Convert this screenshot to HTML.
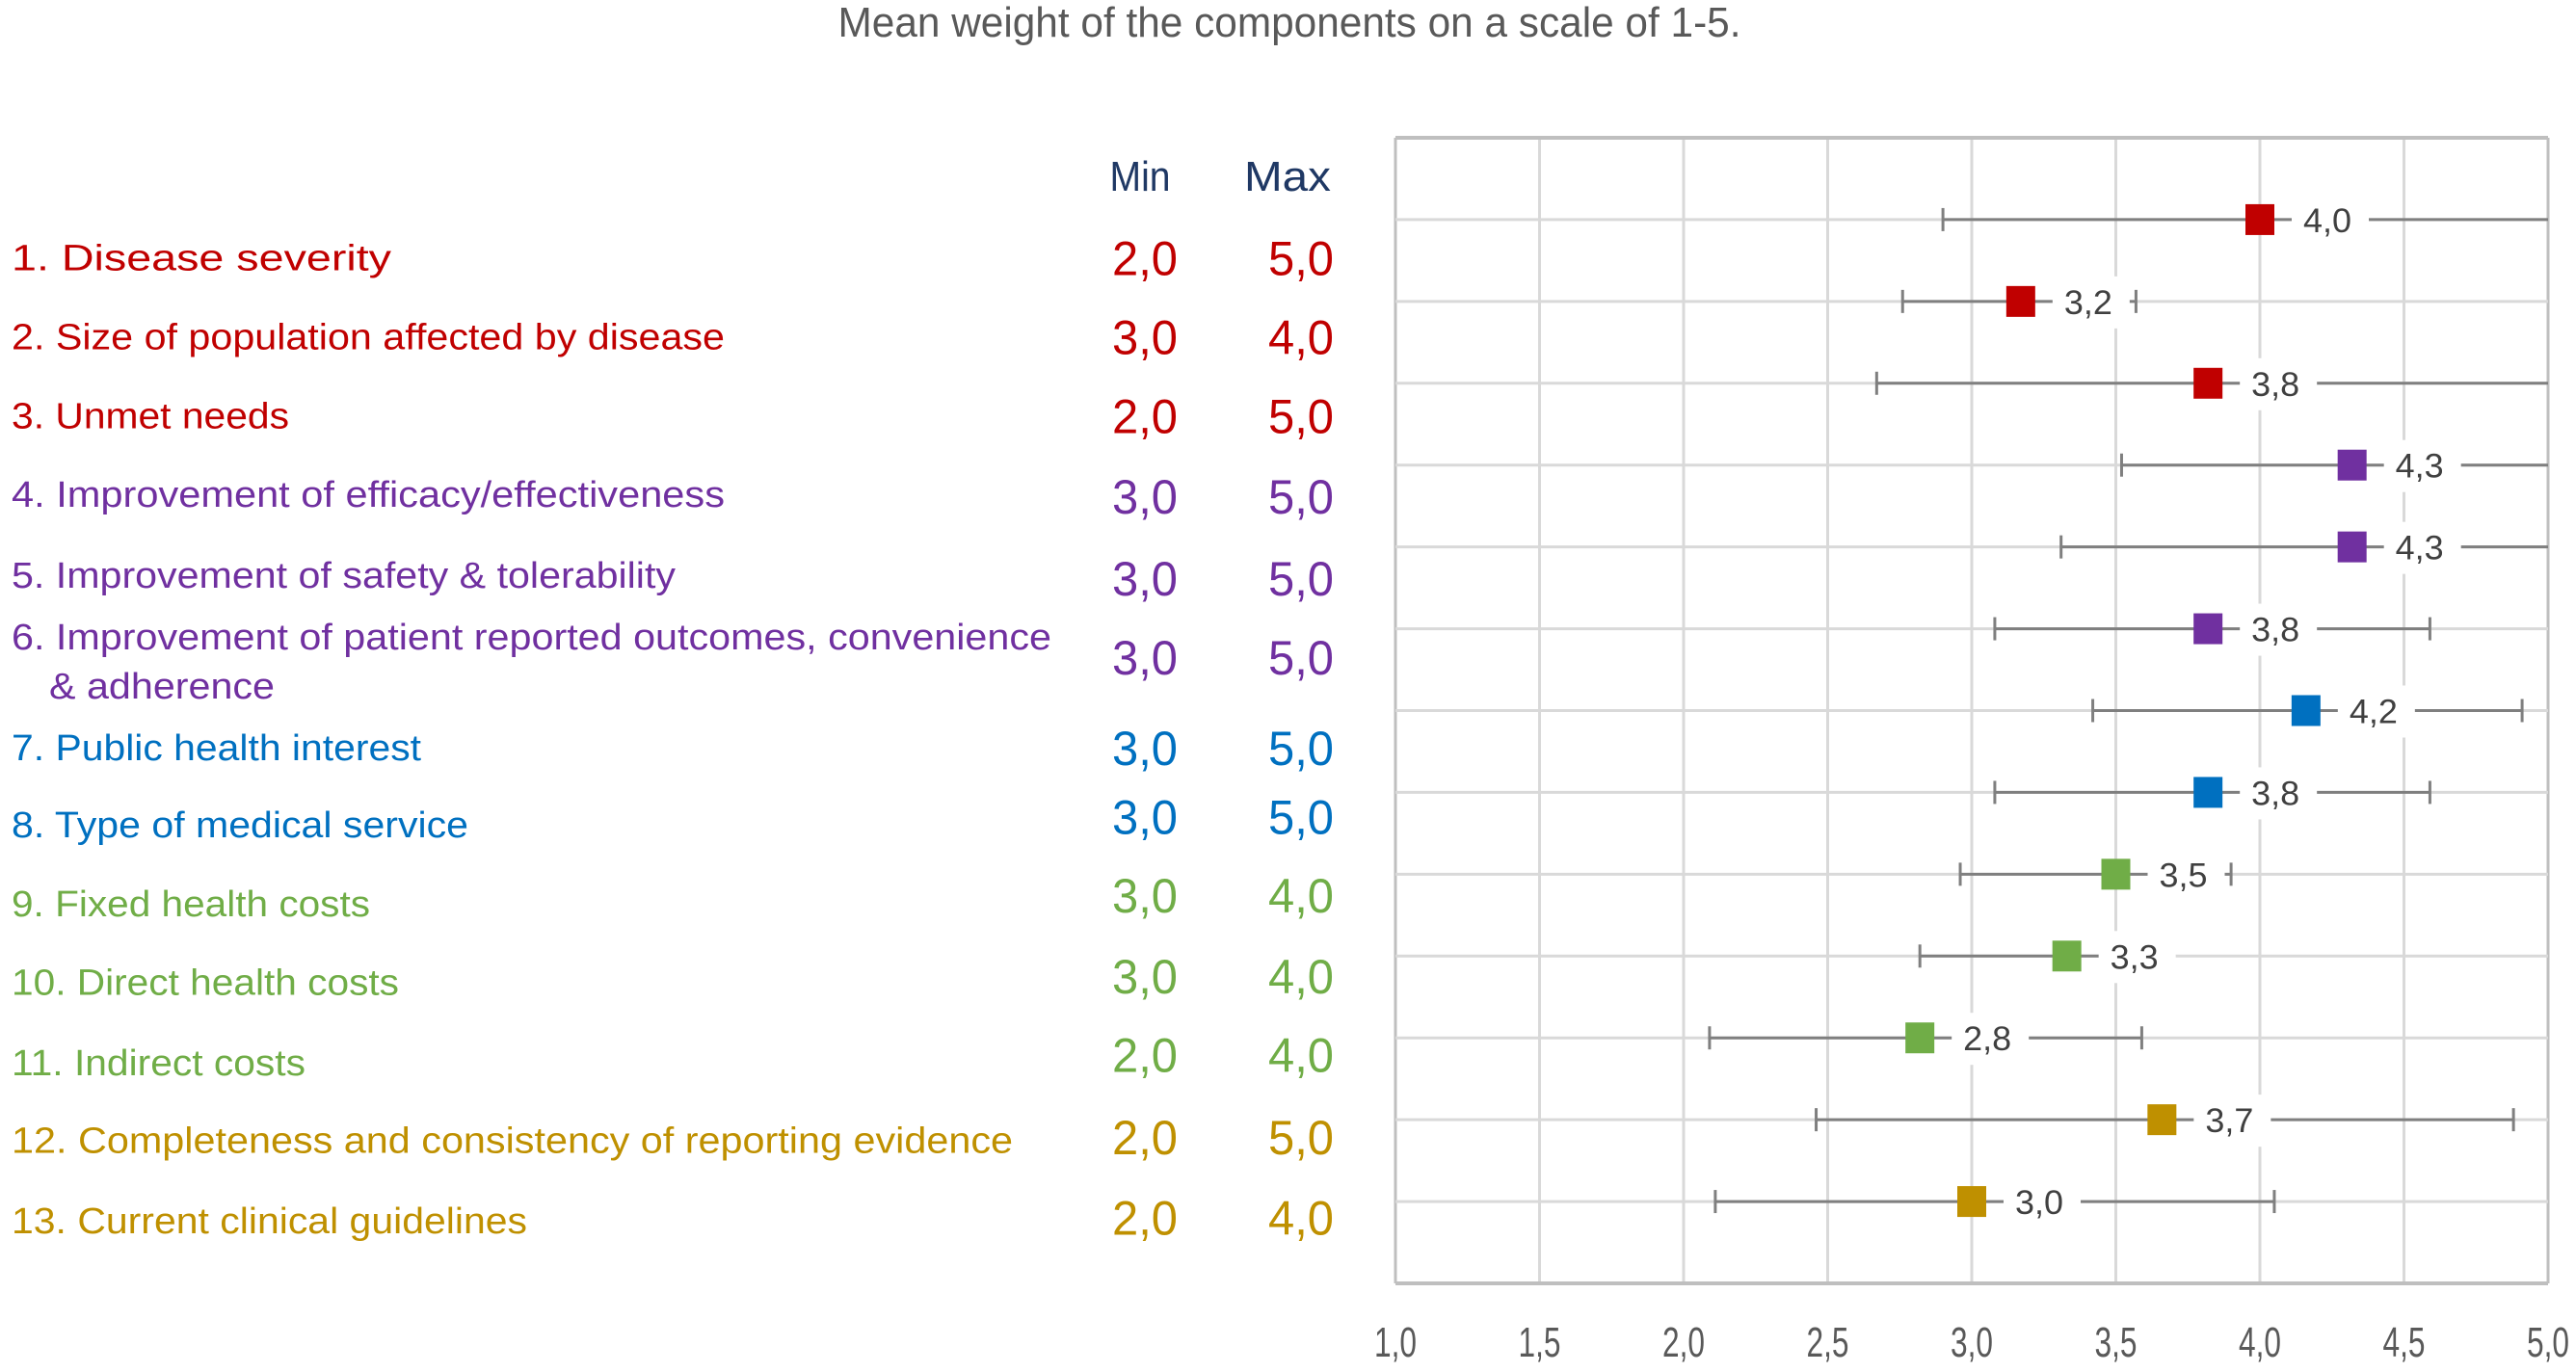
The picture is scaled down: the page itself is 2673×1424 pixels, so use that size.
<!DOCTYPE html>
<html><head><meta charset="utf-8"><style>
html,body{margin:0;padding:0;background:#fff;}
svg{display:block;}
</style></head><body>
<svg id="chart" width="2673" height="1424" viewBox="0 0 2673 1424" xmlns="http://www.w3.org/2000/svg" font-family="'Liberation Sans Narrow','Liberation Sans',sans-serif">
<text x="1338" y="38" text-anchor="middle" font-size="44" fill="#595959" textLength="937" lengthAdjust="spacingAndGlyphs">Mean weight of the components on a scale of 1-5.</text>
<text x="1183" y="198" text-anchor="middle" font-size="44" fill="#1f3864" textLength="63" lengthAdjust="spacingAndGlyphs">Min</text>
<text x="1336" y="198" text-anchor="middle" font-size="44" fill="#1f3864" textLength="90" lengthAdjust="spacingAndGlyphs">Max</text>
<g id="grid"></g>
<g id="labels"></g>
<g id="marks"></g>
<g id="ticks"></g>
</svg>
<script>
const categories = ["1. Disease severity","2. Size of population affected by disease","3. Unmet needs","4. Improvement of efficacy/effectiveness","5. Improvement of safety & tolerability","6. Improvement of patient reported outcomes, convenience","7. Public health interest","8. Type of medical service","9. Fixed health costs","10. Direct health costs","11. Indirect costs","12. Completeness and consistency of reporting evidence","13. Current clinical guidelines"];
const labelWidths = [394,740,288,740,689,1079,425,474,372,402,305,1039,535];
const means = [4.0,3.17,3.82,4.32,4.32,3.82,4.16,3.82,3.50,3.33,2.82,3.66,3.0];
const lows = [2.9,2.76,2.67,3.52,3.31,3.08,3.42,3.08,2.96,2.82,2.09,2.46,2.11];
const highs = [5.2,3.57,5.2,5.2,5.2,4.59,4.91,4.59,3.90,3.70,3.59,4.88,4.05];
const meanLabels = ["4,0","3,2","3,8","4,3","4,3","3,8","4,2","3,8","3,5","3,3","2,8","3,7","3,0"];
const minVals = ["2,0","3,0","2,0","3,0","3,0","3,0","3,0","3,0","3,0","3,0","2,0","2,0","2,0"];
const maxVals = ["5,0","4,0","5,0","5,0","5,0","5,0","5,0","5,0","4,0","4,0","4,0","5,0","4,0"];
const groupColors = ["#c00000","#c00000","#c00000","#7030a0","#7030a0","#7030a0","#0070c0","#0070c0","#70ad47","#70ad47","#70ad47","#bf9000","#bf9000"];
const tickValues = [1.0,1.5,2.0,2.5,3.0,3.5,4.0,4.5,5.0];
const tickLabels = ["1,0","1,5","2,0","2,5","3,0","3,5","4,0","4,5","5,0"];

const NS="http://www.w3.org/2000/svg";
const X0=1448,X1=2644,Y0=143,Y1=1332,VMIN=1,VMAX=5;
const xs=v=>X0+(Math.min(Math.max(v,VMIN),VMAX)-VMIN)/(VMAX-VMIN)*(X1-X0);
const band=(Y1-Y0)/14;
const ys=i=>Y0+band*(i+1);
const rowTextY=[157,205,253,301,350,403,455,502,550,598,647,694,743].map(v=>v*1.705);
const rowValY=[157,205,253,302,352,400,455,497,545,594,642,692,741].map(v=>v*1.705);
function mk(tag,attrs,parent,text){const e=document.createElementNS(NS,tag);for(const k in attrs)e.setAttribute(k,attrs[k]);if(text!==undefined)e.textContent=text;parent.appendChild(e);return e;}
const grid=document.getElementById('grid'),labels=document.getElementById('labels'),marks=document.getElementById('marks'),ticks=document.getElementById('ticks');

tickValues.forEach((v,k)=>{
  const l=mk('line',{x1:xs(v),x2:xs(v),y1:Y0,y2:Y1,stroke:(k===0||k===tickValues.length-1)?'#bfbfbf':'#d9d9d9','stroke-width':3},grid);
  
  
  const t=mk('text',{x:xs(v),y:1408,'text-anchor':'middle','font-size':44,fill:'#595959',textLength:44,lengthAdjust:'spacingAndGlyphs'},ticks,tickLabels[k]);
  
  
});
[Y0,Y1].forEach(y=>{
  const l=mk('line',{x1:X0,x2:X1,y1:y,y2:y,stroke:'#bfbfbf','stroke-width':4},grid);
  
  
});
categories.forEach((c,i)=>{
  const y=ys(i);
  const g=mk('line',{x1:X0,x2:X1,y1:y,y2:y,stroke:'#d9d9d9','stroke-width':3},grid);
  
  
  const col=groupColors[i];
  const ly=rowTextY[i]+13;
  const t=mk('text',{x:12,y:(i===5?ly-26:ly),'font-size':38,fill:col,textLength:labelWidths[i],lengthAdjust:'spacingAndGlyphs'},labels,c);
  
  
  if(i===5){const t2=mk('text',{x:51,y:ly+25,'font-size':38,fill:col,textLength:234,lengthAdjust:'spacingAndGlyphs'},labels,'& adherence');
    
    }
  const mn=mk('text',{x:1188,y:rowValY[i]+18,'text-anchor':'middle','font-size':50,fill:col,textLength:68,lengthAdjust:'spacingAndGlyphs'},labels,minVals[i]);
  
  
  const mx=mk('text',{x:1350,y:rowValY[i]+18,'text-anchor':'middle','font-size':50,fill:col,textLength:68,lengthAdjust:'spacingAndGlyphs'},labels,maxVals[i]);
  
  
  const xl=xs(lows[i]),xh=xs(highs[i]),xm=xs(means[i]);
  const eb=mk('line',{x1:xl,x2:xh,y1:y,y2:y,stroke:'#7f7f7f','stroke-width':3},marks);
  
  
  const c1=mk('line',{x1:xl,x2:xl,y1:y-12,y2:y+12,stroke:'#7f7f7f','stroke-width':3},marks);
  
  
  if(highs[i]<=VMAX){const c2=mk('line',{x1:xh,x2:xh,y1:y-12,y2:y+12,stroke:'#7f7f7f','stroke-width':3},marks);
    
    }
  const box=mk('rect',{x:xm+33,y:y-26,width:80,height:54,fill:'#fff'},marks);
  
  
  const m=mk('rect',{x:xm-15,y:y-16,width:30,height:32,fill:col},marks);
  
  
  const dl=mk('text',{x:xm+70,y:y+13,'text-anchor':'middle','font-size':35,fill:'#404040',textLength:50,lengthAdjust:'spacingAndGlyphs'},marks,meanLabels[i]);
  
  
});
</script>
</body></html>
